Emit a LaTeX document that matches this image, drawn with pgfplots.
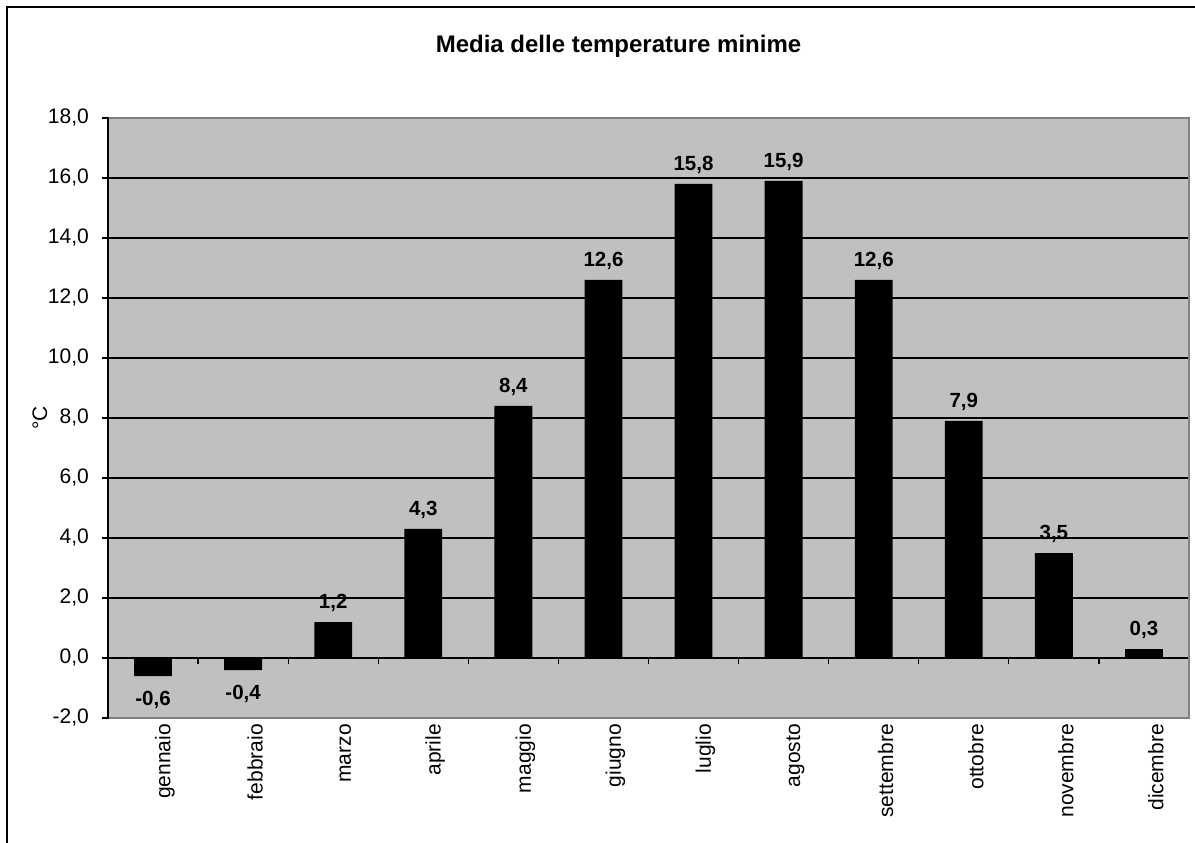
\documentclass[border=0pt]{standalone}
\usepackage{pgfplots}
\pgfplotsset{compat=1.18}
\usepackage{fontspec}
\setmainfont{Liberation Sans}
\definecolor{plotbg}{RGB}{192,192,192}
\definecolor{framegray}{RGB}{128,128,128}
\newcommand{\lblfont}{\fontsize{21bp}{25bp}\selectfont}
\newcommand{\valfont}{\bfseries\fontsize{20.5bp}{24bp}\selectfont}
\begin{document}
\begin{tikzpicture}
\begin{axis}[
  at={(0,0)}, anchor=south west,
  scale only axis, width=1081bp, height=600bp,
  xmin=-0.5, xmax=11.5, ymin=-2, ymax=18,
  ytick={-2,0,...,18},
  xtick={0,...,11},
  xticklabels={gennaio,febbraio,marzo,aprile,maggio,giugno,luglio,agosto,settembre,ottobre,novembre,dicembre},
  axis background/.style={fill=plotbg},
  axis line style={draw=none},
  ymajorgrids, grid style={black, line width=1.2bp},
  ytick pos=left, tick align=outside,
  major tick length=6bp,
  ytick style={black, line width=1.2bp},
  xtick style={draw=none},
  yticklabel style={font=\lblfont, inner sep=0pt, xshift=-13bp},
  xticklabel style={font=\lblfont, rotate=90, anchor=east, inner sep=0pt, yshift=-12bp},
  ylabel={°C},
  ylabel style={font=\lblfont, at={(axis description cs:-0.0629,0.5)}, anchor=center},
  ybar, bar width=0.42,
  /pgf/number format/.cd, use comma, fixed, fixed zerofill, precision=1, assume math mode=true,
]
\addplot[fill=black, draw=none, bar shift=0pt,
  point meta=y,
  visualization depends on={y \as \rawy},
  nodes near coords,
  every node near coord/.append style={font=\valfont, inner sep=0pt,
    yshift={ifthenelse(\rawy<0,-15,10)*1bp}}]
  coordinates {
  (0,-0.6) (1,-0.4) (2,1.2) (3,4.3) (4,8.4) (5,12.6)
  (6,15.8) (7,15.9) (8,12.6) (9,7.9) (10,3.5) (11,0.3)
  };
% category separators on the zero line
\pgfplotsinvokeforeach{-0.5,0.5,...,11.5}{
  \draw[black, line width=1.2bp] (axis cs:#1,0) -- ([yshift=-6bp]axis cs:#1,0);
}
\draw[black, line width=1.5bp] (axis cs:-0.5,0) -- (axis cs:11.5,0);
\end{axis}
% plot area frame
\draw[framegray, line width=2bp] (0,0) rectangle (1081bp,600bp);
\draw[black, line width=2bp] (0,-1bp) -- (0,601bp);
% chart title
\node[font=\bfseries\fontsize{24bp}{28bp}\selectfont, anchor=base] at (510.5bp,665bp) {Media delle temperature minime};
% chart area border
\draw[black, line width=2.2bp] (-101bp,-140bp) -- (-101bp,711bp) -- (1110bp,711bp);
\pgfresetboundingbox
\path[use as bounding box] (-108bp,-125bp) rectangle (1087bp,718bp);
\end{tikzpicture}
\end{document}
